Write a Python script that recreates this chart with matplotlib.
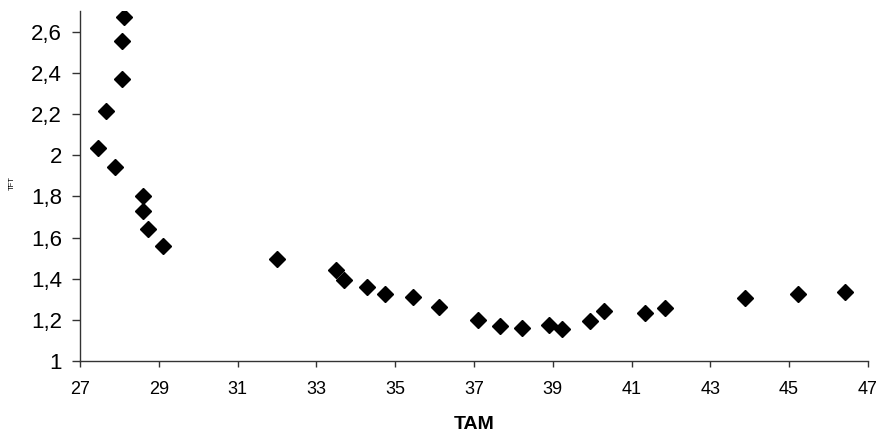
import matplotlib
matplotlib.use('Agg')
import matplotlib.pyplot as plt
import matplotlib.ticker as ticker

plt.rcParams['font.family'] = ['Liberation Sans', 'DejaVu Sans']

# TAM vs TFT
tam = [28.12, 28.07, 28.07, 27.66, 27.45, 27.9, 28.6, 28.6, 28.73, 29.1,
       32.0, 33.5, 33.69, 34.28, 34.75, 35.45, 36.12, 37.1, 37.67, 38.23,
       38.9, 39.24, 39.95, 40.3, 41.35, 41.86, 43.87, 45.22, 46.43]
tft = [2.671, 2.553, 2.372, 2.214, 2.035, 1.942, 1.80, 1.728, 1.642, 1.558,
       1.495, 1.445, 1.393, 1.359, 1.327, 1.314, 1.264, 1.202, 1.172, 1.159,
       1.175, 1.154, 1.194, 1.246, 1.236, 1.259, 1.307, 1.327, 1.338]
xticks = list(range(27, 48, 2))

W, H = 882, 432
fig = plt.figure(figsize=(W / 100, H / 100), dpi=100)
ax = fig.add_axes([0.0907, 0.164, 0.984 - 0.0907, 0.81])

ax.plot(tam, tft, linestyle='none', marker='D', markersize=8.5,
        color='black', markeredgecolor='black')

ax.set_xlim(27, 47)
ax.set_ylim(1, 2.7)
ax.set_xticks(xticks)
ax.yaxis.set_major_locator(ticker.MultipleLocator(0.2))
ax.yaxis.set_major_formatter(ticker.FuncFormatter(lambda v, p: f'{v:g}'.replace('.', ',')))

for s in ['top', 'right']:
    ax.spines[s].set_visible(False)
for s in ['left', 'bottom']:
    ax.spines[s].set_color('#333333')
    ax.spines[s].set_linewidth(1)

ax.tick_params(axis='x', direction='out', length=4.5, width=1, color='#333333',
               labelsize=13, pad=9.5)
ax.tick_params(axis='y', direction='out', length=6, width=1, color='#333333',
               labelsize=16, pad=7)

# axis titles placed at the pixel spots seen in the reference
fig.text(474 / W, 1 - 429 / H, 'TAM', fontsize=14, fontweight='bold',
         ha='center', va='baseline')
fig.text(12 / W, 1 - 183 / H, 'TFT', fontsize=5.5, rotation=90,
         ha='center', va='center')

fig.savefig('out.png', dpi=100)
